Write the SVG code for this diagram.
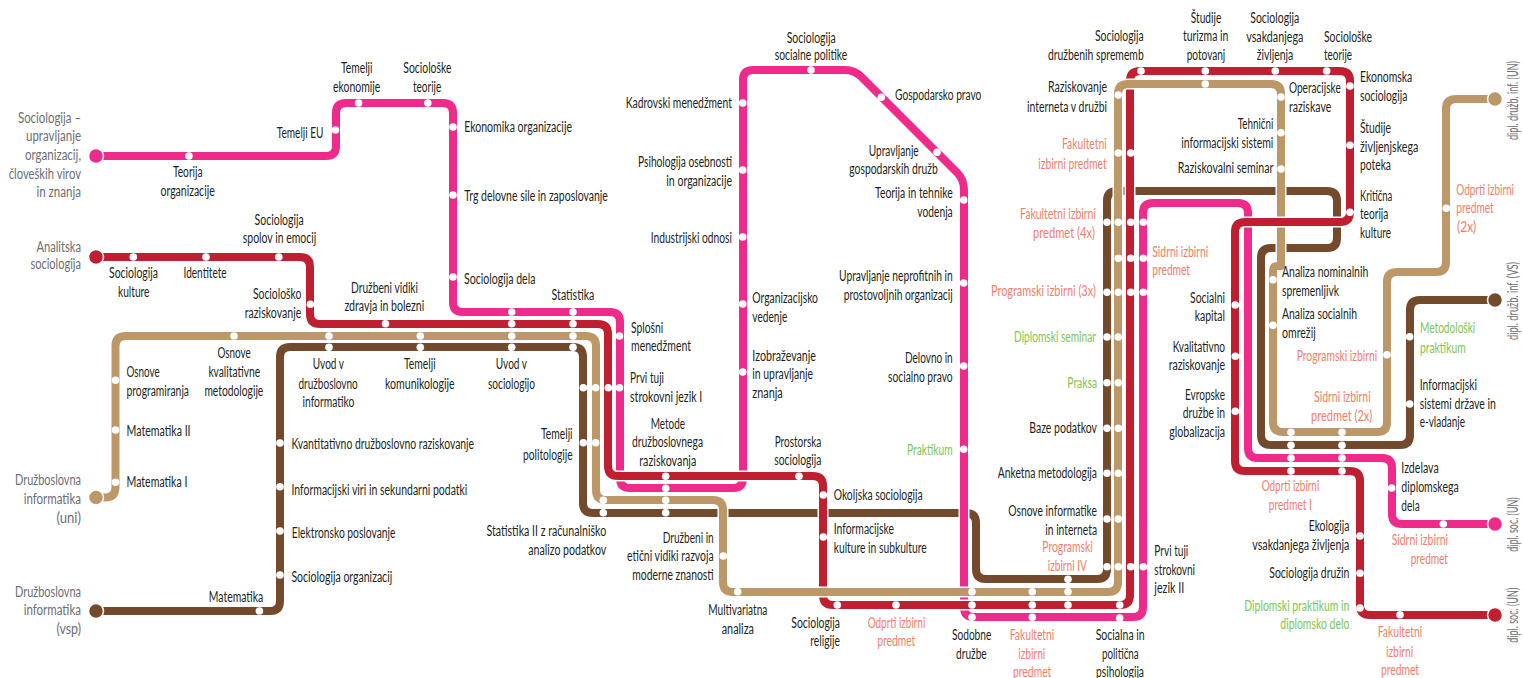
<svg xmlns="http://www.w3.org/2000/svg" width="1523" height="678" viewBox="0 0 1523 678">
<style>
text{font-family:"Lato","Liberation Sans",sans-serif;font-size:15.5px;fill:#231f20}
.g text,text.g{fill:#6d6e71}
.o text,text.o{fill:#f0806a}
.n text,text.n{fill:#7dc653}
.d{fill:#fff;r:3.8px}
.l{fill:none;stroke-width:8;stroke-linejoin:round}
.c{fill:none;stroke:#fff;stroke-width:11}
.pk{stroke:#ee2a8a}.rd{stroke:#be2032}.tn{stroke:#bc9768}.br{stroke:#744a2c}
.fpk{fill:#ee2a8a}.frd{fill:#be2032}.ftn{fill:#bc9768}.fbr{fill:#744a2c}
.fpk,.frd,.ftn,.fbr{stroke:#fff;stroke-width:1.5;r:7.5px}
</style>
<defs>
<path id="lp" d="M96 156H326Q336 156 336 146V113Q336 103 346 103H443Q453 103 453 113V302Q453 312 463 312H610Q620 312 620 322V478Q620 488 630 488H733Q743 488 743 478V80Q743 70 753 70H845Q854.500 70 861.500 77L957 172.500Q964 179.500 964 190V607Q964 617 974 617H1133Q1143 617 1143 607V213Q1143 203 1153 203H1238Q1248 203 1248 213V448Q1248 458 1258 458H1382Q1392 458 1392 468V514Q1392 524 1402 524H1495"/>
<path id="lr" d="M96 257H300Q310 257 310 267V314Q310 324 320 324H598Q608 324 608 334V466Q608 476 618 476H813Q823 476 823 486V595Q823 605 833 605H1120Q1130 605 1130 595V81Q1130 71 1140 71H1340Q1350 71 1350 81V212Q1350 222 1340 222H1245Q1235 222 1235 232V461Q1235 471 1245 471H1350Q1360 471 1360 481V605Q1360 615 1370 615H1495"/>
<path id="lt" d="M96 497.500H105Q115.500 497.500 115.500 487V346Q115.500 336 125.500 336H586Q596 336 596 346V490Q596 500 606 500H713Q723 500 723 510V582Q723 592 733 592H1108Q1118 592 1118 582V94Q1118 84 1128 84H1271Q1281 84 1281 94V266L1277 266Q1273 266 1273 272V422Q1273 432 1283 432H1377Q1387 432 1387 422V282Q1387 272 1397 272H1436Q1446 272 1446 262V109Q1446 99 1456 99H1495"/>
<path id="lb" d="M96 611H270Q280 611 280 601V357Q280 347 290 347H573Q583 347 583 357V503Q583 513 593 513H966Q976 513 976 523V569Q976 579 986 579H1097Q1107 579 1107 569V201Q1107 191 1117 191H1327Q1337 191 1337 201V238Q1337 248 1327 248H1271Q1261 248 1261 258V435Q1261 445 1271 445H1400Q1410 445 1410 435V310Q1410 300 1420 300H1495"/>
</defs>
<g id="connectors">
<use href="#lb" class="c"/><use href="#lb" class="l br"/>
<use href="#lp" class="c"/><use href="#lp" class="l pk"/>
<use href="#lr" class="c"/><use href="#lr" class="l rd"/>
<use href="#lt" class="c"/><use href="#lt" class="l tn"/>
<path d="M1295 222H1267" class="c"/><path d="M1305 222H1257" class="l rd"/>
</g>
<g id="terminals" class="g">
<g id="t-upr"><circle class="fpk" cx="96" cy="156"/><text x="18" y="123" textLength="63" lengthAdjust="spacingAndGlyphs">Sociologija –</text><text x="26" y="141" textLength="55" lengthAdjust="spacingAndGlyphs">upravljanje</text><text x="25" y="160" textLength="56" lengthAdjust="spacingAndGlyphs">organizacij,</text><text x="8.700" y="179" textLength="72.300" lengthAdjust="spacingAndGlyphs">človeških virov</text><text x="36.400" y="197" textLength="44.600" lengthAdjust="spacingAndGlyphs">in znanja</text></g>
<g id="t-ana"><circle class="frd" cx="96" cy="257"/><text x="36.400" y="251.700" textLength="44.600" lengthAdjust="spacingAndGlyphs">Analitska</text><text x="30.400" y="269.300" textLength="50.600" lengthAdjust="spacingAndGlyphs">sociologija</text></g>
<g id="t-uni"><circle class="ftn" cx="96" cy="497.500"/><text x="15" y="485" textLength="66" lengthAdjust="spacingAndGlyphs">Družboslovna</text><text x="23.700" y="503.700" textLength="57.300" lengthAdjust="spacingAndGlyphs">informatika</text><text x="56.500" y="523.300" textLength="24.500" lengthAdjust="spacingAndGlyphs">(uni)</text></g>
<g id="t-vsp"><circle class="fbr" cx="96" cy="611"/><text x="15" y="596.700" textLength="66" lengthAdjust="spacingAndGlyphs">Družboslovna</text><text x="23.700" y="615.300" textLength="57.300" lengthAdjust="spacingAndGlyphs">informatika</text><text x="56.500" y="634" textLength="24.500" lengthAdjust="spacingAndGlyphs">(vsp)</text></g>
<g id="t-dsun"><circle class="ftn" cx="1495" cy="99"/><text transform="translate(1518 140) rotate(-90)" textLength="79" lengthAdjust="spacingAndGlyphs">dipl. družb. inf. (UN)</text></g>
<g id="t-dsvs"><circle class="fbr" cx="1495" cy="300"/><text transform="translate(1518 340) rotate(-90)" textLength="78" lengthAdjust="spacingAndGlyphs">dipl. družb. inf. (VS)</text></g>
<g id="t-dp"><circle class="fpk" cx="1495" cy="524"/><text transform="translate(1518 551.700) rotate(-90)" textLength="54.400" lengthAdjust="spacingAndGlyphs">dipl. soc. (UN)</text></g>
<g id="t-dr"><circle class="frd" cx="1495" cy="615"/><text transform="translate(1518 642.700) rotate(-90)" textLength="55" lengthAdjust="spacingAndGlyphs">dipl. soc. (UN)</text></g>
</g>
<g id="n1"><circle class="d" cx="189" cy="156"/><text x="173" y="176.700" textLength="29.500" lengthAdjust="spacingAndGlyphs">Teorija</text><text x="160.500" y="195.700" textLength="54.200" lengthAdjust="spacingAndGlyphs">organizacije</text></g>
<g id="n2"><circle class="d" cx="335.500" cy="130"/><text x="276.800" y="137.700" textLength="46.600" lengthAdjust="spacingAndGlyphs">Temelji EU</text></g>
<g id="n3"><circle class="d" cx="358.600" cy="103"/><text x="341" y="72.700" textLength="31.500" lengthAdjust="spacingAndGlyphs">Temelji</text><text x="333" y="91.700" textLength="47.400" lengthAdjust="spacingAndGlyphs">ekonomije</text></g>
<g id="n4"><circle class="d" cx="427.800" cy="103"/><text x="403.300" y="72.700" textLength="48.200" lengthAdjust="spacingAndGlyphs">Sociološke</text><text x="413" y="91.700" textLength="28.300" lengthAdjust="spacingAndGlyphs">teorije</text></g>
<g id="n5"><circle class="d" cx="453" cy="127"/><text x="464.200" y="132.300" textLength="107.800" lengthAdjust="spacingAndGlyphs">Ekonomika organizacije</text></g>
<g id="n6"><circle class="d" cx="453" cy="195"/><text x="464.200" y="200.700" textLength="143.600" lengthAdjust="spacingAndGlyphs">Trg delovne sile in zaposlovanje</text></g>
<g id="n7"><circle class="d" cx="453" cy="277"/><text x="464" y="284" textLength="71.400" lengthAdjust="spacingAndGlyphs">Sociologija dela</text></g>
<g id="n8"><circle class="d" cx="573" cy="312"/><circle class="d" cx="573" cy="323.700"/><circle class="d" cx="573" cy="336"/><circle class="d" cx="573" cy="347.300"/><text x="551.600" y="300" textLength="42.700" lengthAdjust="spacingAndGlyphs">Statistika</text></g>
<g id="n9"><circle class="d" cx="511.700" cy="312"/><circle class="d" cx="511.700" cy="323.700"/><circle class="d" cx="511.700" cy="336"/><circle class="d" cx="511.700" cy="347.300"/><text x="495.800" y="369.300" textLength="31.200" lengthAdjust="spacingAndGlyphs">Uvod v</text><text x="488" y="388.700" textLength="47" lengthAdjust="spacingAndGlyphs">sociologijo</text></g>
<g id="n10"><circle class="d" cx="619.500" cy="336"/><text x="631" y="332.700" textLength="32.300" lengthAdjust="spacingAndGlyphs">Splošni</text><text x="631" y="351" textLength="60" lengthAdjust="spacingAndGlyphs">menedžment</text></g>
<g id="n11"><circle class="d" cx="583.300" cy="387.700"/><circle class="d" cx="595.700" cy="387.700"/><circle class="d" cx="608.300" cy="387.700"/><circle class="d" cx="619.500" cy="387.700"/><text x="630" y="382.700" textLength="34" lengthAdjust="spacingAndGlyphs">Prvi tuji</text><text x="630" y="402" textLength="72.300" lengthAdjust="spacingAndGlyphs">strokovni jezik I</text></g>
<g id="n12"><circle class="d" cx="583.300" cy="442.700"/><circle class="d" cx="595.700" cy="442.700"/><text x="541" y="439" textLength="31.600" lengthAdjust="spacingAndGlyphs">Temelji</text><text x="523" y="459.500" textLength="49.600" lengthAdjust="spacingAndGlyphs">politologije</text></g>
<g id="n13"><circle class="d" cx="603.300" cy="500.300"/><circle class="d" cx="603.300" cy="512.700"/><text x="486.400" y="535.700" textLength="119.800" lengthAdjust="spacingAndGlyphs">Statistika II z računalniško</text><text x="528.300" y="554.700" textLength="77.900" lengthAdjust="spacingAndGlyphs">analizo podatkov</text></g>
<g id="n14"><circle class="d" cx="665.700" cy="476.300"/><circle class="d" cx="665.700" cy="488.300"/><circle class="d" cx="665.700" cy="500.300"/><circle class="d" cx="665.700" cy="512.700"/><text x="650.700" y="429" textLength="34.300" lengthAdjust="spacingAndGlyphs">Metode</text><text x="632" y="447.300" textLength="71" lengthAdjust="spacingAndGlyphs">družboslovnega</text><text x="639.300" y="466" textLength="57" lengthAdjust="spacingAndGlyphs">raziskovanja</text></g>
<g id="n15"><circle class="d" cx="742.700" cy="372"/><text x="752.300" y="360.700" textLength="63.700" lengthAdjust="spacingAndGlyphs">Izobraževanje</text><text x="752.300" y="379" textLength="60.700" lengthAdjust="spacingAndGlyphs">in upravljanje</text><text x="752.300" y="397.700" textLength="30.400" lengthAdjust="spacingAndGlyphs">znanja</text></g>
<g id="n16"><circle class="d" cx="742.700" cy="304"/><text x="752.300" y="303.300" textLength="65.700" lengthAdjust="spacingAndGlyphs">Organizacijsko</text><text x="752.300" y="321.700" textLength="35" lengthAdjust="spacingAndGlyphs">vedenje</text></g>
<g id="n17"><circle class="d" cx="742.700" cy="237"/><text x="650.700" y="242.700" textLength="81.300" lengthAdjust="spacingAndGlyphs">Industrijski odnosi</text></g>
<g id="n18"><circle class="d" cx="742.700" cy="170"/><text x="638" y="166.700" textLength="94" lengthAdjust="spacingAndGlyphs">Psihologija osebnosti</text><text x="666.300" y="185.700" textLength="65.700" lengthAdjust="spacingAndGlyphs">in organizacije</text></g>
<g id="n19"><circle class="d" cx="742.700" cy="103"/><text x="625.700" y="107.700" textLength="106.300" lengthAdjust="spacingAndGlyphs">Kadrovski menedžment</text></g>
<g id="n20"><circle class="d" cx="811" cy="70"/><text x="786.700" y="42.700" textLength="49" lengthAdjust="spacingAndGlyphs">Sociologija</text><text x="774.700" y="60" textLength="72.600" lengthAdjust="spacingAndGlyphs">socialne politike</text></g>
<g id="n21"><circle class="d" cx="881.300" cy="97.300"/><text x="895" y="100" textLength="86.300" lengthAdjust="spacingAndGlyphs">Gospodarsko pravo</text></g>
<g id="n22"><circle class="d" cx="937" cy="152.300"/><text x="868.700" y="156" textLength="50" lengthAdjust="spacingAndGlyphs">Upravljanje</text><text x="849.300" y="174" textLength="88.400" lengthAdjust="spacingAndGlyphs">gospodarskih družb</text></g>
<g id="n23"><circle class="d" cx="963.700" cy="200"/><text x="875" y="198" textLength="77.700" lengthAdjust="spacingAndGlyphs">Teorija in tehnike</text><text x="917.300" y="217.300" textLength="35.400" lengthAdjust="spacingAndGlyphs">vodenja</text></g>
<g id="n24"><circle class="d" cx="963.700" cy="283"/><text x="839" y="281" textLength="113.700" lengthAdjust="spacingAndGlyphs">Upravljanje neprofitnih in</text><text x="843.700" y="300" textLength="109" lengthAdjust="spacingAndGlyphs">prostovoljnih organizacij</text></g>
<g id="n25"><circle class="d" cx="963.700" cy="366"/><text x="905" y="362.700" textLength="47.700" lengthAdjust="spacingAndGlyphs">Delovno in</text><text x="888" y="382.300" textLength="64.700" lengthAdjust="spacingAndGlyphs">socialno pravo</text></g>
<g id="n26" class="n"><circle class="d" cx="963.700" cy="449.300"/><text x="907" y="454.700" textLength="45.700" lengthAdjust="spacingAndGlyphs">Praktikum</text></g>
<g id="n27"><circle class="d" cx="972" cy="617.300"/><circle class="d" cx="972" cy="605"/><circle class="d" cx="972" cy="591.700"/><text x="952" y="640" textLength="39.300" lengthAdjust="spacingAndGlyphs">Sodobne</text><text x="956" y="658.700" textLength="30.700" lengthAdjust="spacingAndGlyphs">družbe</text></g>
<g id="n28" class="o"><circle class="d" cx="1032.300" cy="617.300"/><circle class="d" cx="1032.300" cy="605"/><circle class="d" cx="1032.300" cy="591.700"/><text x="1009.700" y="640" textLength="44.600" lengthAdjust="spacingAndGlyphs">Fakultetni</text><text x="1018.300" y="658.700" textLength="27" lengthAdjust="spacingAndGlyphs">izbirni</text><text x="1013" y="676.700" textLength="38.300" lengthAdjust="spacingAndGlyphs">predmet</text></g>
<g id="n29"><circle class="d" cx="1119.700" cy="618"/><circle class="d" cx="1119.700" cy="605"/><text x="1095.700" y="640" textLength="49" lengthAdjust="spacingAndGlyphs">Socialna in</text><text x="1102" y="658.700" textLength="36.700" lengthAdjust="spacingAndGlyphs">politična</text><text x="1096" y="676.700" textLength="48" lengthAdjust="spacingAndGlyphs">psihologija</text></g>
<g id="n30"><circle class="d" cx="1143.300" cy="566.700"/><circle class="d" cx="1130.700" cy="566.700"/><circle class="d" cx="1118.300" cy="566.700"/><circle class="d" cx="1107" cy="566.700"/><text x="1154.300" y="556" textLength="34" lengthAdjust="spacingAndGlyphs">Prvi tuji</text><text x="1154.300" y="574.700" textLength="40.700" lengthAdjust="spacingAndGlyphs">strokovni</text><text x="1154.300" y="593" textLength="30" lengthAdjust="spacingAndGlyphs">jezik II</text></g>
<g id="n31" class="o"><circle class="d" cx="1068" cy="579.300"/><circle class="d" cx="1068" cy="591.700"/><circle class="d" cx="1068" cy="605"/><text x="1042.300" y="552" textLength="50.400" lengthAdjust="spacingAndGlyphs">Programski</text><text x="1047.700" y="570.700" textLength="39.300" lengthAdjust="spacingAndGlyphs">izbirni IV</text></g>
<g id="n32"><circle class="d" cx="1118.300" cy="519"/><circle class="d" cx="1107" cy="519"/><text x="1008.300" y="515.700" textLength="88.700" lengthAdjust="spacingAndGlyphs">Osnove informatike</text><text x="1045.300" y="534.700" textLength="51.700" lengthAdjust="spacingAndGlyphs">in interneta</text></g>
<g id="n33"><circle class="d" cx="1118.300" cy="473.300"/><circle class="d" cx="1107" cy="473.300"/><text x="997.700" y="478" textLength="99.300" lengthAdjust="spacingAndGlyphs">Anketna metodologija</text></g>
<g id="n34"><circle class="d" cx="1118.300" cy="428.300"/><circle class="d" cx="1107" cy="428.300"/><text x="1029.300" y="433" textLength="67.700" lengthAdjust="spacingAndGlyphs">Baze podatkov</text></g>
<g id="n35" class="n"><circle class="d" cx="1118.300" cy="382.700"/><circle class="d" cx="1107" cy="382.700"/><text x="1067.300" y="388" textLength="29.700" lengthAdjust="spacingAndGlyphs">Praksa</text></g>
<g id="n36" class="n"><circle class="d" cx="1118.300" cy="337"/><circle class="d" cx="1107" cy="337"/><text x="1014" y="341.700" textLength="82" lengthAdjust="spacingAndGlyphs">Diplomski seminar</text></g>
<g id="n37" class="o"><circle class="d" cx="1107" cy="292.300"/><circle class="d" cx="1118.300" cy="292.300"/><circle class="d" cx="1130.700" cy="292.300"/><circle class="d" cx="1143.300" cy="292.300"/><text x="991" y="296" textLength="105" lengthAdjust="spacingAndGlyphs">Programski izbirni (3x)</text></g>
<g id="n38" class="o"><circle class="d" cx="1118.300" cy="258.300"/><circle class="d" cx="1130.700" cy="258.300"/><circle class="d" cx="1143.300" cy="258.300"/><text x="1152.300" y="256.700" textLength="56" lengthAdjust="spacingAndGlyphs">Sidrni izbirni</text><text x="1152.300" y="275" textLength="37.700" lengthAdjust="spacingAndGlyphs">predmet</text></g>
<g id="n39" class="o"><circle class="d" cx="1107" cy="222.300"/><circle class="d" cx="1118.300" cy="222.300"/><circle class="d" cx="1130.700" cy="222.300"/><circle class="d" cx="1143.300" cy="222.300"/><text x="1020" y="219.300" textLength="76" lengthAdjust="spacingAndGlyphs">Fakultetni izbirni</text><text x="1033" y="238.300" textLength="62" lengthAdjust="spacingAndGlyphs">predmet (4x)</text></g>
<g id="n40" class="o"><circle class="d" cx="1118.300" cy="153"/><circle class="d" cx="1130.700" cy="153"/><text x="1062" y="149.300" textLength="44.700" lengthAdjust="spacingAndGlyphs">Fakultetni</text><text x="1038.300" y="168.700" textLength="68.400" lengthAdjust="spacingAndGlyphs">izbirni predmet</text></g>
<g id="n41"><circle class="d" cx="1118.300" cy="95"/><text x="1048" y="92.300" textLength="59" lengthAdjust="spacingAndGlyphs">Raziskovanje</text><text x="1027" y="111.700" textLength="80" lengthAdjust="spacingAndGlyphs">interneta v družbi</text></g>
<g id="n42"><circle class="d" cx="1141" cy="71"/><text x="1095" y="41" textLength="48.700" lengthAdjust="spacingAndGlyphs">Sociologija</text><text x="1048" y="60" textLength="95.700" lengthAdjust="spacingAndGlyphs">družbenih sprememb</text></g>
<g id="n43"><circle class="d" cx="1205.300" cy="71"/><circle class="d" cx="1205.300" cy="84"/><text x="1190.700" y="23" textLength="30.600" lengthAdjust="spacingAndGlyphs">Študije</text><text x="1183" y="41" textLength="45.300" lengthAdjust="spacingAndGlyphs">turizma in</text><text x="1186.700" y="60" textLength="38.600" lengthAdjust="spacingAndGlyphs">potovanj</text></g>
<g id="n44"><circle class="d" cx="1275.300" cy="71"/><text x="1250.300" y="23" textLength="49" lengthAdjust="spacingAndGlyphs">Sociologija</text><text x="1246.300" y="41.700" textLength="57" lengthAdjust="spacingAndGlyphs">vsakdanjega</text><text x="1256.700" y="60" textLength="36.600" lengthAdjust="spacingAndGlyphs">življenja</text></g>
<g id="n45"><circle class="d" cx="1326.700" cy="71"/><text x="1324" y="41.700" textLength="48" lengthAdjust="spacingAndGlyphs">Sociološke</text><text x="1324" y="60" textLength="28" lengthAdjust="spacingAndGlyphs">teorije</text></g>
<g id="n46"><circle class="d" cx="1350" cy="86"/><text x="1360" y="81.700" textLength="52.300" lengthAdjust="spacingAndGlyphs">Ekonomska</text><text x="1360" y="100.700" textLength="47.300" lengthAdjust="spacingAndGlyphs">sociologija</text></g>
<g id="n47"><circle class="d" cx="1350" cy="145.300"/><text x="1360" y="132.700" textLength="31" lengthAdjust="spacingAndGlyphs">Študije</text><text x="1360" y="151.700" textLength="58.300" lengthAdjust="spacingAndGlyphs">življenjskega</text><text x="1360" y="170" textLength="31" lengthAdjust="spacingAndGlyphs">poteka</text></g>
<g id="n48"><circle class="d" cx="1350" cy="212.300"/><text x="1360" y="200.700" textLength="32.300" lengthAdjust="spacingAndGlyphs">Kritična</text><text x="1360" y="219" textLength="28.300" lengthAdjust="spacingAndGlyphs">teorija</text><text x="1360" y="237.700" textLength="31" lengthAdjust="spacingAndGlyphs">kulture</text></g>
<g id="n49"><circle class="d" cx="1281" cy="97"/><text x="1289" y="92.700" textLength="51.700" lengthAdjust="spacingAndGlyphs">Operacijske</text><text x="1289" y="111.700" textLength="42.300" lengthAdjust="spacingAndGlyphs">raziskave</text></g>
<g id="n50"><circle class="d" cx="1281" cy="132.700"/><text x="1237.700" y="129" textLength="35.600" lengthAdjust="spacingAndGlyphs">Tehnični</text><text x="1181.300" y="147.700" textLength="92" lengthAdjust="spacingAndGlyphs">informacijski sistemi</text></g>
<g id="n51"><circle class="d" cx="1281" cy="169"/><text x="1177.700" y="172.700" textLength="95.600" lengthAdjust="spacingAndGlyphs">Raziskovalni seminar</text></g>
<g id="n52"><circle class="d" cx="1273" cy="279.700"/><text x="1282" y="276.700" textLength="86.300" lengthAdjust="spacingAndGlyphs">Analiza nominalnih</text><text x="1282" y="295.700" textLength="57" lengthAdjust="spacingAndGlyphs">spremenljivk</text></g>
<g id="n53"><circle class="d" cx="1273" cy="325.300"/><text x="1282" y="319" textLength="75" lengthAdjust="spacingAndGlyphs">Analiza socialnih</text><text x="1282" y="337.700" textLength="33.700" lengthAdjust="spacingAndGlyphs">omrežij</text></g>
<g id="n54"><circle class="d" cx="1235.300" cy="305"/><text x="1190" y="302.700" textLength="35" lengthAdjust="spacingAndGlyphs">Socialni</text><text x="1194.700" y="320.700" textLength="30.300" lengthAdjust="spacingAndGlyphs">kapital</text></g>
<g id="n55"><circle class="d" cx="1235.300" cy="356.300"/><text x="1172.700" y="351.700" textLength="52.300" lengthAdjust="spacingAndGlyphs">Kvalitativno</text><text x="1168.700" y="370" textLength="56.300" lengthAdjust="spacingAndGlyphs">raziskovanje</text></g>
<g id="n56"><circle class="d" cx="1235.300" cy="411.300"/><text x="1185" y="400" textLength="40" lengthAdjust="spacingAndGlyphs">Evropske</text><text x="1182.700" y="418.300" textLength="42.300" lengthAdjust="spacingAndGlyphs">družbe in</text><text x="1169.300" y="437.300" textLength="55.700" lengthAdjust="spacingAndGlyphs">globalizacija</text></g>
<g id="n57" class="o"><circle class="d" cx="1446.300" cy="208.300"/><text x="1456.300" y="194.700" textLength="57.700" lengthAdjust="spacingAndGlyphs">Odprti izbirni</text><text x="1456.300" y="213" textLength="37.400" lengthAdjust="spacingAndGlyphs">predmet</text><text x="1457" y="231.700" textLength="19.300" lengthAdjust="spacingAndGlyphs">(2x)</text></g>
<g id="n58" class="o"><circle class="d" cx="1387" cy="354.700"/><text x="1296.700" y="360.700" textLength="80.600" lengthAdjust="spacingAndGlyphs">Programski izbirni</text></g>
<g id="n59" class="o"><circle class="d" cx="1342" cy="432.300"/><circle class="d" cx="1342" cy="445.300"/><circle class="d" cx="1342" cy="458"/><circle class="d" cx="1342" cy="471"/><text x="1314" y="402" textLength="56.700" lengthAdjust="spacingAndGlyphs">Sidrni izbirni</text><text x="1311" y="421" textLength="61.300" lengthAdjust="spacingAndGlyphs">predmet (2x)</text></g>
<g id="n60" class="o"><circle class="d" cx="1291" cy="432.300"/><circle class="d" cx="1291" cy="445.300"/><circle class="d" cx="1291" cy="458"/><circle class="d" cx="1291" cy="471"/><text x="1261.700" y="490.700" textLength="57.600" lengthAdjust="spacingAndGlyphs">Odprti izbirni</text><text x="1268.700" y="510" textLength="43.300" lengthAdjust="spacingAndGlyphs">predmet I</text></g>
<g id="n61" class="n"><circle class="d" cx="1409.700" cy="336.700"/><text x="1420" y="333.300" textLength="55.300" lengthAdjust="spacingAndGlyphs">Metodološki</text><text x="1420" y="352.700" textLength="45.700" lengthAdjust="spacingAndGlyphs">praktikum</text></g>
<g id="n62"><circle class="d" cx="1409.700" cy="404"/><text x="1419.700" y="390" textLength="57.300" lengthAdjust="spacingAndGlyphs">Informacijski</text><text x="1419.700" y="409" textLength="76.300" lengthAdjust="spacingAndGlyphs">sistemi države in</text><text x="1419.700" y="427" textLength="45.300" lengthAdjust="spacingAndGlyphs">e-vladanje</text></g>
<g id="n63"><circle class="d" cx="1391.700" cy="488"/><text x="1401.300" y="473" textLength="37.400" lengthAdjust="spacingAndGlyphs">Izdelava</text><text x="1401.300" y="492" textLength="57.400" lengthAdjust="spacingAndGlyphs">diplomskega</text><text x="1401.300" y="510.700" textLength="18.400" lengthAdjust="spacingAndGlyphs">dela</text></g>
<g id="n64" class="o"><circle class="d" cx="1443.300" cy="524"/><text x="1391.700" y="544.700" textLength="56.300" lengthAdjust="spacingAndGlyphs">Sidrni izbirni</text><text x="1410.700" y="564" textLength="37.300" lengthAdjust="spacingAndGlyphs">predmet</text></g>
<g id="n65"><circle class="d" cx="1360" cy="536"/><text x="1308.700" y="530.700" textLength="40.600" lengthAdjust="spacingAndGlyphs">Ekologija</text><text x="1252.300" y="550" textLength="97" lengthAdjust="spacingAndGlyphs">vsakdanjega življenja</text></g>
<g id="n66"><circle class="d" cx="1360" cy="573.300"/><text x="1269.300" y="578" textLength="80" lengthAdjust="spacingAndGlyphs">Sociologija družin</text></g>
<g id="n67" class="n"><circle class="d" cx="1360" cy="608"/><text x="1244.300" y="610.700" textLength="105" lengthAdjust="spacingAndGlyphs">Diplomski praktikum in</text><text x="1280.300" y="629" textLength="69" lengthAdjust="spacingAndGlyphs">diplomsko delo</text></g>
<g id="n68" class="o"><circle class="d" cx="1400" cy="614.700"/><text x="1377.700" y="637.300" textLength="44.600" lengthAdjust="spacingAndGlyphs">Fakultetni</text><text x="1386" y="656.700" textLength="27.300" lengthAdjust="spacingAndGlyphs">izbirni</text><text x="1381" y="675" textLength="38" lengthAdjust="spacingAndGlyphs">predmet</text></g>
<g id="n69" class="o"><circle class="d" cx="896" cy="605"/><text x="867.700" y="627.700" textLength="57.600" lengthAdjust="spacingAndGlyphs">Odprti izbirni</text><text x="877.300" y="645.700" textLength="38" lengthAdjust="spacingAndGlyphs">predmet</text></g>
<g id="n70"><circle class="d" cx="837.300" cy="605"/><text x="791.300" y="627.700" textLength="48.700" lengthAdjust="spacingAndGlyphs">Sociologija</text><text x="810.300" y="645.700" textLength="29.700" lengthAdjust="spacingAndGlyphs">religije</text></g>
<g id="n71"><circle class="d" cx="737.700" cy="591.700"/><text x="708.300" y="614.700" textLength="59" lengthAdjust="spacingAndGlyphs">Multivariatna</text><text x="721.700" y="634" textLength="32.300" lengthAdjust="spacingAndGlyphs">analiza</text></g>
<g id="n72"><circle class="d" cx="723.300" cy="556"/><text x="662.700" y="542.700" textLength="51" lengthAdjust="spacingAndGlyphs">Družbeni in</text><text x="627" y="561" textLength="86.700" lengthAdjust="spacingAndGlyphs">etični vidiki razvoja</text><text x="632.300" y="580" textLength="81.400" lengthAdjust="spacingAndGlyphs">moderne znanosti</text></g>
<g id="n73"><circle class="d" cx="823.300" cy="495"/><text x="833.700" y="500" textLength="89" lengthAdjust="spacingAndGlyphs">Okoljska sociologija</text></g>
<g id="n74"><circle class="d" cx="823.300" cy="537"/><text x="833.700" y="534" textLength="60.300" lengthAdjust="spacingAndGlyphs">Informacijske</text><text x="833.700" y="552.700" textLength="93" lengthAdjust="spacingAndGlyphs">kulture in subkulture</text></g>
<g id="n75"><circle class="d" cx="799" cy="476.300"/><text x="774.700" y="447" textLength="46.600" lengthAdjust="spacingAndGlyphs">Prostorska</text><text x="774.300" y="465" textLength="47" lengthAdjust="spacingAndGlyphs">sociologija</text></g>
<g id="n76"><circle class="d" cx="133.300" cy="257"/><text x="109" y="278.300" textLength="49" lengthAdjust="spacingAndGlyphs">Sociologija</text><text x="118" y="297.300" textLength="31.500" lengthAdjust="spacingAndGlyphs">kulture</text></g>
<g id="n77"><circle class="d" cx="206" cy="257"/><text x="183.500" y="278.300" textLength="43.100" lengthAdjust="spacingAndGlyphs">Identitete</text></g>
<g id="n78"><circle class="d" cx="278.800" cy="257"/><text x="254.600" y="225" textLength="49.100" lengthAdjust="spacingAndGlyphs">Sociologija</text><text x="242.800" y="243.300" textLength="73.500" lengthAdjust="spacingAndGlyphs">spolov in emocij</text></g>
<g id="n79"><circle class="d" cx="310.400" cy="304.300"/><text x="253" y="299" textLength="48.300" lengthAdjust="spacingAndGlyphs">Sociološko</text><text x="244.800" y="317.700" textLength="56.500" lengthAdjust="spacingAndGlyphs">raziskovanje</text></g>
<g id="n80"><circle class="d" cx="385.500" cy="323.700"/><text x="351" y="292.700" textLength="67" lengthAdjust="spacingAndGlyphs">Družbeni vidiki</text><text x="344.400" y="311" textLength="79.900" lengthAdjust="spacingAndGlyphs">zdravja in bolezni</text></g>
<g id="n81"><circle class="d" cx="115.500" cy="380.300"/><text x="126.500" y="376.700" textLength="33.200" lengthAdjust="spacingAndGlyphs">Osnove</text><text x="126.500" y="395.700" textLength="62.500" lengthAdjust="spacingAndGlyphs">programiranja</text></g>
<g id="n82"><circle class="d" cx="115.500" cy="430"/><text x="126.500" y="435.700" textLength="64.100" lengthAdjust="spacingAndGlyphs">Matematika II</text></g>
<g id="n83"><circle class="d" cx="115.500" cy="482.300"/><text x="126.500" y="487.300" textLength="60.900" lengthAdjust="spacingAndGlyphs">Matematika I</text></g>
<g id="n84"><circle class="d" cx="234" cy="336"/><text x="217.500" y="357.700" textLength="33.200" lengthAdjust="spacingAndGlyphs">Osnove</text><text x="208.400" y="376.500" textLength="51.800" lengthAdjust="spacingAndGlyphs">kvalitativne</text><text x="204.400" y="395.500" textLength="58.900" lengthAdjust="spacingAndGlyphs">metodologije</text></g>
<g id="n85"><circle class="d" cx="329" cy="336"/><circle class="d" cx="329" cy="347.300"/><text x="312.800" y="369.300" textLength="31.200" lengthAdjust="spacingAndGlyphs">Uvod v</text><text x="298.500" y="388.700" textLength="59.300" lengthAdjust="spacingAndGlyphs">družboslovno</text><text x="302.500" y="406.700" textLength="51.800" lengthAdjust="spacingAndGlyphs">informatiko</text></g>
<g id="n86"><circle class="d" cx="420.300" cy="336"/><circle class="d" cx="420.300" cy="347.300"/><text x="404" y="369.300" textLength="31.700" lengthAdjust="spacingAndGlyphs">Temelji</text><text x="385" y="388.700" textLength="69.700" lengthAdjust="spacingAndGlyphs">komunikologije</text></g>
<g id="n87"><circle class="d" cx="259.400" cy="611"/><text x="208.800" y="601.700" textLength="54.500" lengthAdjust="spacingAndGlyphs">Matematika</text></g>
<g id="n88"><circle class="d" cx="280" cy="443"/><text x="291.400" y="449.300" textLength="182.600" lengthAdjust="spacingAndGlyphs">Kvantitativno družboslovno raziskovanje</text></g>
<g id="n89"><circle class="d" cx="280" cy="486.700"/><text x="291.400" y="494.700" textLength="176" lengthAdjust="spacingAndGlyphs">Informacijski viri in sekundarni podatki</text></g>
<g id="n90"><circle class="d" cx="280" cy="531"/><text x="291.800" y="537.700" textLength="103.600" lengthAdjust="spacingAndGlyphs">Elektronsko poslovanje</text></g>
<g id="n91"><circle class="d" cx="280" cy="575"/><text x="291.400" y="581.700" textLength="100.800" lengthAdjust="spacingAndGlyphs">Sociologija organizacij</text></g>
</svg>
